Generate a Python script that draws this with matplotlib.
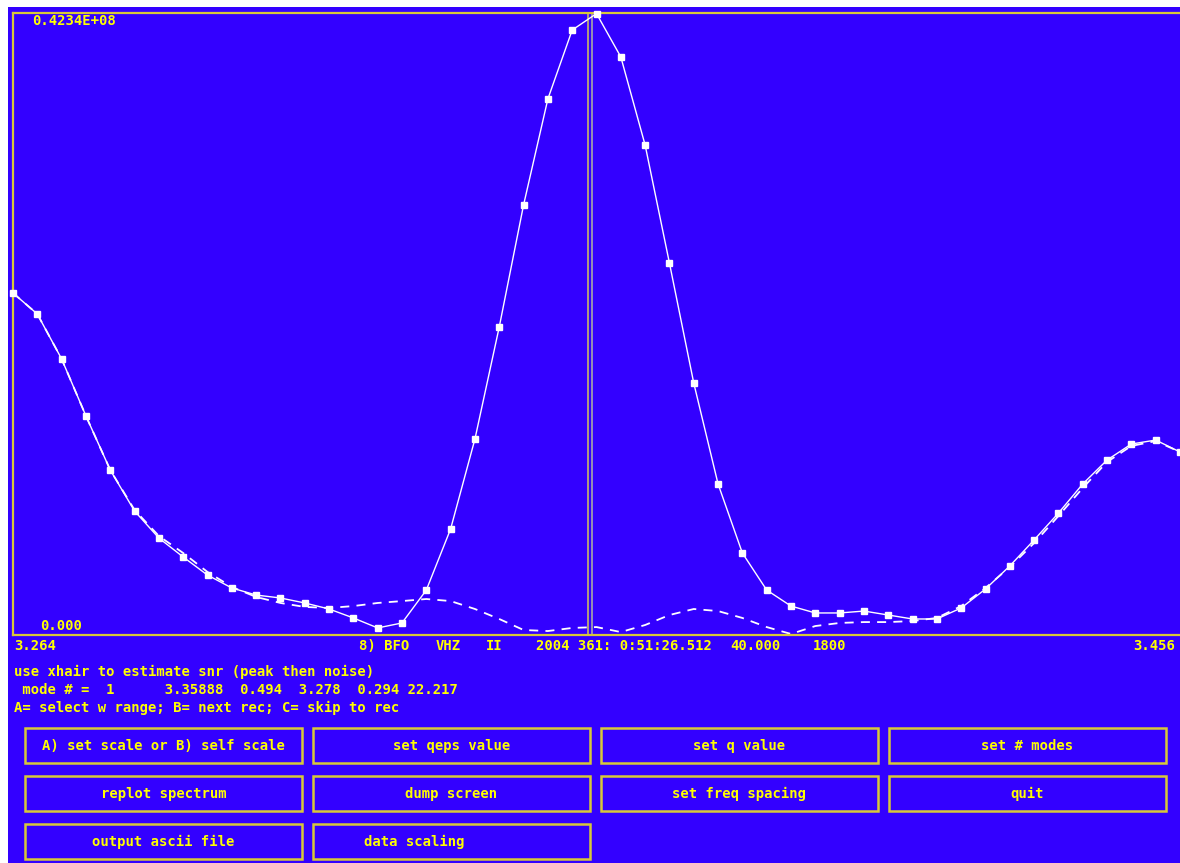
import matplotlib
matplotlib.use("Agg")
import matplotlib.pyplot as plt
from matplotlib.patches import Rectangle

W, H = 1180, 863

# ---------------- data ----------------
freqs = [3.264, 3.268, 3.272, 3.276, 3.280, 3.284, 3.288, 3.292, 3.296, 3.300,
         3.304, 3.308, 3.312, 3.316, 3.320, 3.324, 3.328, 3.332, 3.336, 3.340,
         3.344, 3.348, 3.352, 3.356, 3.360, 3.364, 3.368, 3.372, 3.376, 3.380,
         3.384, 3.388, 3.392, 3.396, 3.400, 3.404, 3.408, 3.412, 3.416, 3.420,
         3.424, 3.428, 3.432, 3.436, 3.440, 3.444, 3.448, 3.452, 3.456]

# observed spectrum (millions)
spectrum = [23.28, 21.85, 18.79, 14.91, 11.23, 8.44, 6.60, 5.31, 4.08, 3.20,
            2.72, 2.52, 2.18, 1.77, 1.16, 0.48, 0.82, 3.06, 7.22, 13.34,
            20.97, 29.27, 36.49, 41.18, 42.30, 39.35, 33.35, 25.32, 17.15, 10.28,
            5.58, 3.06, 1.97, 1.50, 1.50, 1.63, 1.36, 1.09, 1.09, 1.84,
            3.13, 4.70, 6.47, 8.30, 10.28, 11.91, 13.00, 13.27, 12.46]

# model fit (millions)
model = [23.28, 21.85, 18.79, 14.91, 11.23, 8.51, 6.74, 5.58, 4.29, 3.27,
         2.59, 2.18, 1.91, 1.84, 1.97, 2.18, 2.31, 2.45, 2.31, 1.77,
         1.09, 0.34, 0.27, 0.48, 0.54, 0.20, 0.68, 1.36, 1.77, 1.63,
         1.16, 0.54, 0.07, 0.61, 0.82, 0.88, 0.88, 0.95, 1.16, 1.97,
         3.20, 4.63, 6.26, 8.10, 10.01, 11.78, 12.87, 13.20, 12.46]

UNIT = 1e6
y_max = 0.4234e8
x_min, x_max = 3.264, 3.456
crosshair = 3.35888

y_max_label = "0.4234E+08"
y_min_label = "0.000"
x_min_label = "3.264"
x_max_label = "3.456"
header_tokens = [("8) BFO", 359), ("VHZ", 436), ("II", 486),
                 ("2004 361: 0:51:26.512", 536), ("40.000", 730), ("1800", 813)]
info_line1 = "use xhair to estimate snr (peak then noise)"
info_line2 = " mode # =  1      3.35888  0.494  3.278  0.294 22.217"
info_line3 = "A= select w range; B= next rec; C= skip to rec"

buttons = [
    ["A) set scale or B) self scale", "set qeps value", "set q value", "set # modes"],
    ["replot spectrum", "dump screen", "set freq spacing", "quit"],
    ["output ascii file", "data scaling", None, None],
]

# ---------------- style ----------------
BLUE = "#3300ff"
YEL = "#ffff00"
FRAME = "#d8c838"
font = dict(family="DejaVu Sans Mono", weight="bold", size=10, color=YEL)

fig = plt.figure(figsize=(W / 100, H / 100), dpi=100)
fig.patch.set_facecolor("white")
fig.patches.append(Rectangle((8 / W, 0), 1 - 8 / W, 1 - 7 / H,
                             transform=fig.transFigure, facecolor=BLUE,
                             edgecolor="none", zorder=-5))


def fx(x):
    return x / W


def fy(y):
    return 1 - y / H


ax = fig.add_axes([fx(13), fy(635), (W - 13) / W, (635 - 13) / H])
ax.set_zorder(1)
ax.set_facecolor(BLUE)
ax.set_xlim(x_min, x_max)
ax.set_ylim(0, y_max)
for side in ("left", "top", "bottom"):
    ax.spines[side].set_color(FRAME)
    ax.spines[side].set_linewidth(1.6)
ax.spines["right"].set_visible(False)
ax.set_xticks([])
ax.set_yticks([])

px = (x_max - x_min) / (W - 13)
ax.axvline(crosshair - 2 * px, color="#c8b868", lw=1.2, zorder=1)
ax.axvline(crosshair + 2 * px, color="#a8a8a8", lw=1.2, zorder=1)

ys = [v * UNIT for v in spectrum]
ym = [v * UNIT for v in model]
ax.plot(freqs, ym, color="white", lw=1.3, ls=(0, (5, 4)), zorder=2, clip_on=False)
ax.plot(freqs, ys, color="white", lw=1.0, marker="s", ms=5, mec="white",
        mfc="white", zorder=3, clip_on=False)


def T(x, y, s, ha="left"):
    fig.text(fx(x), fy(y), s, ha=ha, va="center", zorder=5, **font)


T(32, 21, y_max_label)
T(40, 626, y_min_label)
T(14, 646, x_min_label)
T(1175, 646, x_max_label, ha="right")
for s, x in header_tokens:
    T(x, 646, s)
T(14, 672, info_line1)
T(14, 690, info_line2)
T(14, 708, info_line3)

col_x = [25, 313, 601, 889]
row_y = [728, 776, 824]
bw, bh = 277, 35
for r, row in enumerate(buttons):
    for c, label in enumerate(row):
        if label is None:
            continue
        x0, y0 = col_x[c], row_y[r]
        fig.patches.append(Rectangle((fx(x0), fy(y0 + bh)), bw / W, bh / H,
                                     transform=fig.transFigure, fill=False,
                                     edgecolor=FRAME, lw=1.8, zorder=2))
        if label == "data scaling":
            T(364, y0 + bh / 2, label)
        else:
            T(x0 + bw / 2, y0 + bh / 2, label, ha="center")

fig.savefig("out.png", dpi=100, facecolor=fig.get_facecolor())
